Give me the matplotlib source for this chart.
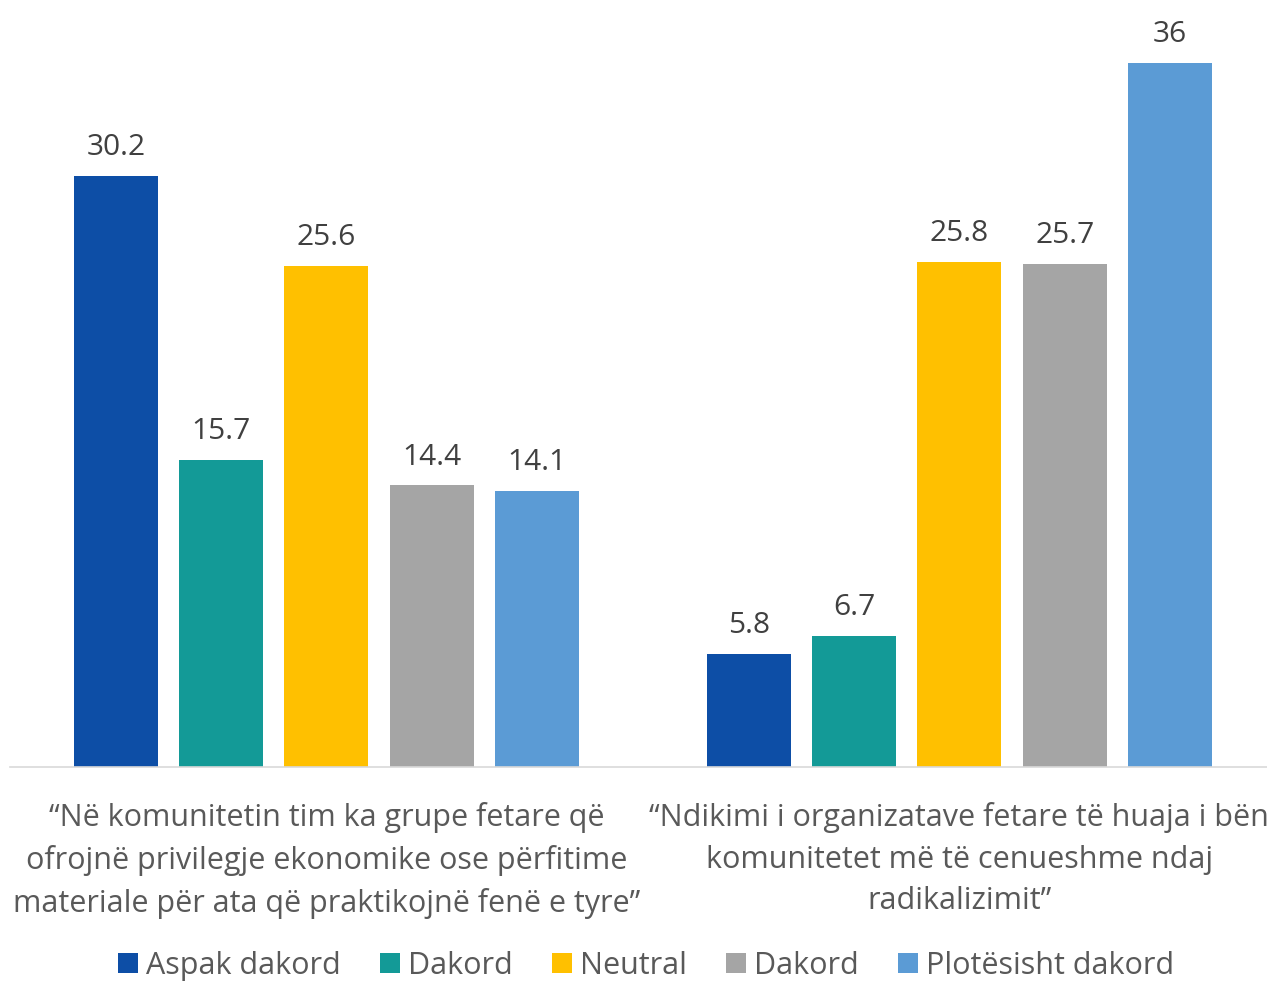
import matplotlib.pyplot as plt
import numpy as np

# data
categories = [
    "\u201cNë komunitetin tim ka grupe fetare që\nofrojnë privilegje ekonomike ose përfitime\nmateriale për ata që praktikojnë fenë e tyre\u201d",
    "\u201cNdikimi i organizatave fetare të huaja i bën\nkomunitetet më të cenueshme ndaj\nradikalizimit\u201d",
]
series_names = ["Aspak dakord", "Dakord", "Neutral", "Dakord", "Plotësisht dakord"]
aspak = [30.2, 5.8]
dakord1 = [15.7, 6.7]
neutral = [25.6, 25.8]
dakord2 = [14.4, 25.7]
plotesisht = [14.1, 36]
colors = ["#0d4ea6", "#139a97", "#ffc000", "#a5a5a5", "#5b9bd5"]

plt.rcParams['font.family'] = ['Open Sans', 'DejaVu Sans']

fig = plt.figure(figsize=(12.67, 9.81), dpi=100)
ax = fig.add_axes([10 / 1267, 1 - 767 / 981, 1 - 10 / 1267, 767 / 981])

values = [aspak, dakord1, neutral, dakord2, plotesisht]
x = np.arange(len(categories))
width = 0.1327
pitch = 0.1663
for i, (vals, name, c) in enumerate(zip(values, series_names, colors)):
    pos = x + (i - 2) * pitch
    bars = ax.bar(pos, vals, width, color=c, label=name)
    for b, v in zip(bars, vals):
        ax.text(b.get_x() + b.get_width() / 2, v + 0.7, f"{v:g}",
                ha='center', va='bottom', fontsize=21.5, color='#404040')

ax.set_xlim(-0.5, 1.486)
ax.set_ylim(0, 39.2)
ax.set_yticks([])
ax.set_xticks([])
for s in ['top', 'right', 'left']:
    ax.spines[s].set_visible(False)
ax.spines['bottom'].set_color('#d9d9d9')
ax.spines['bottom'].set_linewidth(1.2)

for xi, cat in zip(x, categories):
    ax.text(xi, -1.8, cat, ha='center', va='top', fontsize=22,
            color='#595959', linespacing=1.5)

leg = fig.legend(loc='center', bbox_to_anchor=(0.51, 1 - 966 / 981), ncol=5,
                 frameon=False, fontsize=22, handlelength=0.65, handleheight=0.65,
                 handletextpad=0.25, columnspacing=1.3, labelcolor='#595959')

fig.savefig("out.png", dpi=100)
